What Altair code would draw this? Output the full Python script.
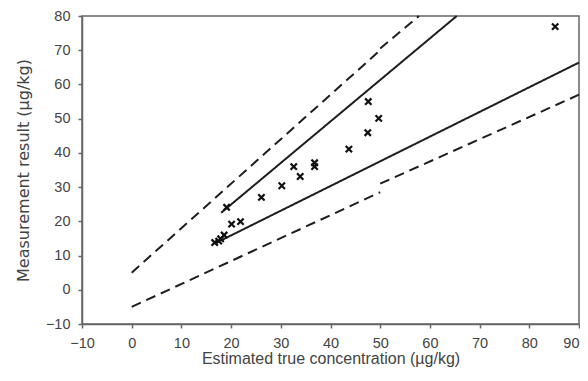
import altair as alt
import pandas as pd

# Measured points (estimated true conc, measurement result)
pt_x = [16.7, 17.5, 17.9, 18.6, 19.1, 20.1, 21.9, 26.1, 30.2, 32.6, 33.9, 36.8, 36.8, 43.7, 47.5, 47.6, 49.7, 85.2]
pt_y = [13.8, 14.2, 14.9, 16.0, 24.1, 19.2, 19.9, 27.0, 30.4, 36.0, 33.1, 36.0, 37.1, 41.1, 45.9, 55.0, 50.1, 76.9]

# Limit lines (segments)
seg_names = ["ud1", "ud1", "ud2", "ud2", "ld1", "ld1", "ld2", "ld2", "us", "us", "ls", "ls"]
seg_style = ["dash", "dash", "dash", "dash", "dash", "dash", "dash", "dash", "solid", "solid", "solid", "solid"]
seg_x = [0, 50, 50, 57.8, 0, 50, 50, 90, 18, 65.4, 17.8, 90]
seg_y = [5, 70, 70.5, 80, -5, 28.5, 31, 57, 22.5, 80, 14.3, 66.4]

x_ticks = [-10, 0, 10, 20, 30, 40, 50, 60, 70, 80, 90]
y_ticks = [-10, 0, 10, 20, 30, 40, 50, 60, 70, 80]

pts = pd.DataFrame({"x": pt_x, "y": pt_y})
segs = pd.DataFrame({"x": seg_x, "y": seg_y, "seg": seg_names, "style": seg_style})

FONT = "Liberation Sans"
TXT = "#444"
AX = "#666"
xs = alt.Scale(domain=[-10, 90], nice=False, zero=False)
ys = alt.Scale(domain=[-10, 80], nice=False, zero=False)

xenc = alt.X("x:Q", scale=xs, axis=alt.Axis(
    values=x_ticks, title="Estimated true concentration (µg/kg)", grid=False,
    domainColor=AX, tickColor=AX, tickSize=4, tickWidth=1.5, domainWidth=1.5,
    labelFontSize=14.5, labelColor=TXT, titleColor=TXT, titleFontSize=16,
    titleFontWeight="normal", labelFont=FONT, titleFont=FONT,
    labelAlign={"condition": {"test": "datum.value == 90", "value": "right"}, "value": "center"},
    labelPadding=8, titlePadding=1, labelFlush=False, labelOverlap=False))
yenc = alt.Y("y:Q", scale=ys, axis=alt.Axis(
    values=y_ticks, title="Measurement result (µg/kg)", grid=False,
    domainColor=AX, tickColor=AX, tickSize=4, tickWidth=1.5, domainWidth=1.5,
    labelFontSize=14.5, labelColor=TXT, titleColor=TXT, titleFontSize=16,
    titleFontWeight="normal", labelFont=FONT, titleFont="DejaVu Sans",
    labelPadding=8, titlePadding=14, labelFlush=False, labelOverlap=False))

lines = alt.Chart(segs).mark_line(color="#1e1e1e", strokeWidth=2).encode(
    x=xenc, y=yenc, detail="seg:N",
    strokeDash=alt.StrokeDash("style:N", scale=alt.Scale(domain=["dash", "solid"], range=[[10, 6], [1, 0]]), legend=None),
)

points = alt.Chart(pts).mark_point(
    shape="M-1,-1L1,1M-1,1L1,-1", color="#111", strokeWidth=2.2, size=40, opacity=1
).encode(x=xenc, y=yenc)

chart = alt.layer(lines, points).properties(
    width=497, height=308,
    autosize=alt.AutoSizeParams(type="none"),
    padding={"left": 74, "top": 8, "right": 1, "bottom": 45},
).configure_view(stroke=AX, strokeWidth=1.5)

chart.save("out.html", embed_options={"renderer": "svg", "actions": False})
